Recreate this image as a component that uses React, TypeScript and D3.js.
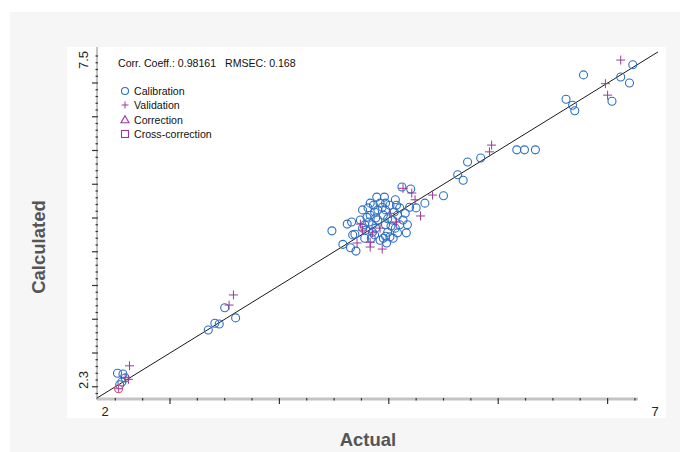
import React from "react";
import * as d3 from "d3";

const calibration: [number, number][] = [
  [2.52, 2.70], [2.57, 2.69], [2.59, 2.63], [2.56, 2.57], [2.54, 2.53],
  [3.35, 3.34], [3.41, 3.44], [3.45, 3.43], [3.50, 3.67], [3.60, 3.52],
  [4.48, 4.81], [4.58, 4.61], [4.65, 4.56], [4.70, 4.51], [4.62, 4.91], [4.66, 4.94],
  [4.69, 4.76], [4.76, 5.12], [4.83, 5.22], [4.89, 5.31], [4.80, 5.01], [4.92, 5.22],
  [5.12, 5.46], [5.20, 5.43], [5.50, 5.33], [5.33, 5.22], [5.25, 5.15], [5.17, 4.90],
  [5.16, 4.78], [5.01, 4.72], [4.95, 4.70], [5.63, 5.64], [5.68, 5.56], [5.72, 5.83],
  [5.84, 5.89], [4.86, 5.19], [4.97, 5.12], [5.01, 5.19], [5.06, 5.27], [5.08, 5.04],
  [5.03, 4.97], [4.97, 4.90], [4.90, 4.97], [4.85, 4.90], [4.79, 4.82], [4.87, 4.75],
  [4.99, 4.79], [5.06, 4.85], [5.10, 5.15], [5.15, 5.07], [5.19, 5.16], [4.95, 5.04],
  [4.83, 5.04], [4.74, 4.97], [4.78, 4.70], [4.92, 4.67], [5.04, 4.70], [5.10, 4.90],
  [4.88, 4.85], [4.97, 5.22], [4.81, 5.15], [4.76, 4.85], [4.84, 4.70], [4.98, 4.63],
  [4.67, 4.75],
  [4.87, 5.09], [4.94, 5.16], [4.99, 4.99], [5.05, 5.09], [4.82, 4.94], [4.88, 5.00],
  [5.02, 4.88], [5.07, 5.19], [5.13, 4.97], [4.96, 5.31], [4.90, 5.12], [4.78, 4.90],
  [4.85, 4.79], [5.08, 4.78], [4.97, 4.73],
  [6.17, 6.01], [6.24, 6.01], [6.34, 6.01], [6.62, 6.76], [6.68, 6.67], [6.70, 6.59],
  [6.78, 7.12], [7.04, 6.73], [7.12, 7.09], [7.20, 7.00], [7.23, 7.27],
];

const validation: [number, number][] = [
  [2.63, 2.81], [2.59, 2.64], [2.62, 2.61], [3.58, 3.86], [3.54, 3.71],
  [5.13, 5.44], [5.21, 5.37], [5.24, 5.27], [5.40, 5.34], [5.29, 5.03], [4.74, 4.91],
  [4.76, 4.82], [4.85, 4.78], [4.83, 4.64], [4.94, 4.54], [4.83, 4.57], [5.07, 4.94],
  [5.01, 5.07], [4.92, 4.85], [4.71, 4.63],
  [5.94, 6.08], [5.92, 5.98], [6.98, 6.99], [7.00, 6.82], [7.12, 7.34],
];

const highlighted: [number, number][] = [[2.53, 2.47]];

const fitLine: [number, number][] = [[2.33, 2.33], [7.46, 7.46]];

const xTickLabels = ["2", "7"];
const yTickLabels = ["2.3", "7.5"];
const legendItems = ["Calibration", "Validation", "Correction", "Cross-correction"];
const statsText = "Corr. Coeff.: 0.98161   RMSEC: 0.168";

const BLUE = "#2c6fc2";
const PURPLE = "#9a3a9a";
const FONT = "'Liberation Sans', Arial, sans-serif";

export default function App() {
  const x = d3.scaleLinear().domain([3, 7]).range([170, 607.6]);
  const y = d3.scaleLinear().domain([3, 7]).range([353, 83]);

  const xMinor = d3.range(2.5, 7.26, 0.25);
  const yMinor = d3.range(2.4, 7.41, 0.1);
  const line = d3.line<[number, number]>().x((d) => x(d[0])).y((d) => y(d[1]));

  const plus = (cx: number, cy: number, s: number, color: string, key: string) => (
    <g key={key} stroke={color} strokeWidth={1}>
      <line x1={cx - s} x2={cx + s} y1={cy} y2={cy} />
      <line x1={cx} x2={cx} y1={cy - s} y2={cy + s} />
    </g>
  );

  const legendY = [91, 105, 119.5, 134];

  return (
    <svg width={680} height={452} style={{ position: "absolute", left: 0, top: 0 }} fontFamily={FONT}>
      <rect x={0} y={0} width={680} height={452} fill="#ffffff" />
      <rect x={10} y={12} width={670} height={440} fill="#f6f6f6" />
      <rect x={67} y={47} width={599} height={371} fill="#ffffff" />

      {/* axes */}
      <line x1={97} x2={638} y1={399} y2={399} stroke="#c4c4c4" strokeWidth={3} />
      <line x1={97} x2={97} y1={47} y2={400} stroke="#c4c4c4" strokeWidth={2} />
      {xMinor.map((v, i) => {
        const major = Math.abs(v - Math.round(v)) < 1e-6;
        return (
          <line key={"xt" + i} x1={x(v)} x2={x(v)} y1={398} y2={major ? 404 : 400.5} stroke="#333" strokeWidth={1.2} />
        );
      })}
      {yMinor.map((v, i) => {
        const major = Math.abs(v * 2 - Math.round(v * 2)) < 1e-6;
        return (
          <line key={"yt" + i} x1={major ? 92 : 95.5} x2={98} y1={y(v)} y2={y(v)} stroke="#333" strokeWidth={1.2} />
        );
      })}

      <text x={105} y={416} fontSize={13} textAnchor="middle" fill="#222">{xTickLabels[0]}</text>
      <text x={655} y={416} fontSize={13} textAnchor="middle" fill="#222">{xTickLabels[1]}</text>
      <text transform="translate(88,380) rotate(-90)" fontSize={13} textAnchor="middle" fill="#222">{yTickLabels[0]}</text>
      <text transform="translate(88,60) rotate(-90)" fontSize={13} textAnchor="middle" fill="#222">{yTickLabels[1]}</text>

      {/* 1:1 line */}
      <path d={line(fitLine) || ""} stroke="#1a1a1a" strokeWidth={1} fill="none" />

      {/* points */}
      {calibration.map((d, i) => (
        <circle key={"c" + i} cx={x(d[0])} cy={y(d[1])} r={4} fill="none" stroke={BLUE} strokeWidth={1.1} />
      ))}
      {validation.map((d, i) => plus(x(d[0]), y(d[1]), 4.5, PURPLE, "v" + i))}
      {highlighted.map((d, i) => (
        <g key={"h" + i}>
          <circle cx={x(d[0])} cy={y(d[1])} r={4} fill="none" stroke="#e05070" strokeWidth={1.1} />
          {plus(x(d[0]), y(d[1]), 4, "#b84aa0", "hp" + i)}
        </g>
      ))}

      {/* stats + legend */}
      <text x={118} y={67} fontSize={10.6} fill="#111" style={{ whiteSpace: "pre" }}>{statsText}</text>
      <circle cx={125} cy={legendY[0]} r={3.5} fill="none" stroke={BLUE} strokeWidth={1.1} />
      {plus(125, legendY[1], 3.5, PURPLE, "lp")}
      <path d={`M${125},${legendY[2] - 3.8}L${129},${legendY[2] + 3.2}L${121},${legendY[2] + 3.2}Z`} fill="none" stroke={PURPLE} strokeWidth={1.1} />
      <rect x={121.5} y={legendY[3] - 3.5} width={7} height={7} fill="none" stroke={PURPLE} strokeWidth={1.1} />
      {legendItems.map((t, i) => (
        <text key={"l" + i} x={134} y={legendY[i] + 4} fontSize={10.6} fill="#111">{t}</text>
      ))}

      {/* axis titles */}
      <text x={368} y={446} fontSize={18.5} fontWeight="bold" textAnchor="middle" fill="#555">Actual</text>
      <text transform="translate(45,247) rotate(-90)" fontSize={18.5} fontWeight="bold" textAnchor="middle" fill="#555">Calculated</text>
    </svg>
  );
}
